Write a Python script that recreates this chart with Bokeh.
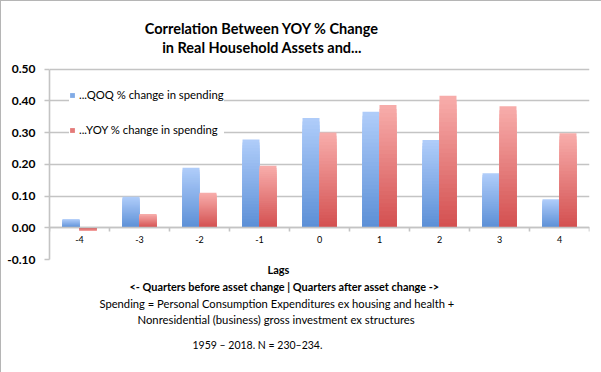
from bokeh.plotting import figure
from bokeh.models import (Range1d, FixedTicker, Legend, LegendItem, ColumnDataSource,
                          Title, Label, CustomJSTickFormatter)
from bokeh.embed import file_html
from bokeh.resources import INLINE

# ---- data ----
lags = [-4, -3, -2, -1, 0, 1, 2, 3, 4]
tick_labels = ["-4", "-3", "-2", "-1", "0", "1", "2", "3", "4"]
qoq = [0.027, 0.098, 0.189, 0.278, 0.346, 0.365, 0.276, 0.172, 0.090]
yoy = [-0.010, 0.043, 0.110, 0.195, 0.300, 0.387, 0.416, 0.383, 0.298]
series_names = ["...QOQ % change in spending", "...YOY % change in spending"]
y_ticks = [-0.1, 0.0, 0.1, 0.2, 0.3, 0.4, 0.5]
title_lines = ["Correlation Between YOY % Change", "in Real Household Assets and..."]
x_title_lines = ["Lags",
                 "<-  Quarters before asset change | Quarters after asset change ->",
                 "Spending = Personal Consumption Expenditures ex housing and health +",
                 "Nonresidential (business) gross investment ex structures",
                 "1959 \u2013 2018. N = 230\u2013234."]

FONT = "Lato"
GRID = "#c4c4c4"

# value axis spans -0.10..0.50; the frame is extended upward to hold the title
y_lo, y_hi = y_ticks[0], y_ticks[-1]
px_per_unit = 317.5
top_room = 68.5 / px_per_unit

p = figure(width=601, height=372, output_backend="svg", toolbar_location=None,
           x_range=Range1d(-4.5, 4.5), y_range=Range1d(y_lo, y_hi + top_room),
           min_border_left=49, min_border_right=12, min_border_top=0, min_border_bottom=113,
           title=None)
p.outline_line_color = None
p.background_fill_color = None
p.border_fill_color = None
p.styles = {"box-shadow": "inset 1px 1px 0 #b5b5b5", "background-color": "white"}

# grid
p.xgrid.grid_line_color = None
p.ygrid.ticker = FixedTicker(ticks=y_ticks)
p.ygrid.grid_line_color = GRID
p.ygrid.grid_line_width = 1.6

# y axis
p.yaxis.ticker = FixedTicker(ticks=y_ticks)
p.yaxis.bounds = (y_lo, y_hi)
p.yaxis.formatter = CustomJSTickFormatter(code="return tick.toFixed(2);")
p.yaxis.axis_line_color = GRID
p.yaxis.axis_line_width = 1.6
p.yaxis.major_tick_line_color = GRID
p.yaxis.major_tick_line_width = 1.6
p.yaxis.major_tick_out = 5
p.yaxis.major_tick_in = 0
p.yaxis.minor_tick_line_color = None
p.yaxis.major_label_standoff = 9
p.yaxis.major_label_text_font = FONT
p.yaxis.major_label_text_font_style = "bold"
p.yaxis.major_label_text_font_size = "12px"
p.yaxis.major_label_text_color = "black"

# x axis at zero
p.xaxis.fixed_location = 0
p.xaxis.ticker = FixedTicker(ticks=lags, minor_ticks=[l - 0.5 for l in lags] + [lags[-1] + 0.5])
p.xaxis.major_label_overrides = {l: t for l, t in zip(lags, tick_labels)}
p.xaxis.axis_line_color = GRID
p.xaxis.axis_line_width = 1.6
p.xaxis.major_tick_line_color = None
p.xaxis.minor_tick_line_color = GRID
p.xaxis.minor_tick_line_width = 1.6
p.xaxis.minor_tick_in = 0
p.xaxis.minor_tick_out = 4
p.xaxis.major_label_standoff = 2
p.xaxis.major_label_text_font = FONT
p.xaxis.major_label_text_font_size = "9px"
p.xaxis.major_label_text_color = "black"


def lerp(c1, c2, t):
    a = [int(c1[i:i + 2], 16) for i in (1, 3, 5)]
    b = [int(c2[i:i + 2], 16) for i in (1, 3, 5)]
    return "#%02x%02x%02x" % tuple(round(a[i] + (b[i] - a[i]) * t) for i in range(3))


N = 30
bar_w = 0.283
series = [(qoq, -bar_w / 2, "#5b8fd6", "#b0cdfa"), (yoy, bar_w / 2, "#d34f4f", "#f8aeac")]
legend_items = []
for (vals, off, c_bot, c_top), name in zip(series, series_names):
    xs, tops, cols = [], [], []
    # overlapping layers from full height (top colour) down to the shortest (bottom colour)
    for k in range(N):
        for lag, v in zip(lags, vals):
            xs.append(lag + off)
            tops.append(v * (N - k) / N)
            cols.append(lerp(c_bot, c_top, (N - k - 0.5) / N))
    src = ColumnDataSource(dict(x=xs, top=tops, color=cols))
    p.vbar(x="x", width=bar_w, bottom=0, top="top", fill_color="color",
           line_color=None, source=src)
    # zero-area proxy used only for the legend swatch
    proxy = p.quad(left=[lags[0]], right=[lags[0]], bottom=[0], top=[0],
                   fill_color=lerp(c_bot, c_top, 0.45), line_color=None)
    legend_items.append(LegendItem(label=name, renderers=[proxy]))

legend = Legend(items=legend_items, location=(20, 123), orientation="vertical",
                label_text_font=FONT, label_text_font_size="11.3px", label_text_color="black",
                label_height=12, glyph_height=6, glyph_width=6, label_standoff=4,
                spacing=22, padding=6, margin=0,
                background_fill_color="white", background_fill_alpha=1.0,
                border_line_color=None)
p.add_layout(legend)

# chart title (two centred lines, placed by baseline)
title_x = -0.958
for text, baseline_px in zip(title_lines, [28.3, 47.3]):
    p.add_layout(Label(x=title_x, y=y_hi + (68.5 - baseline_px) / px_per_unit, text=text,
                       text_align="center", text_baseline="alphabetic",
                       text_font=FONT, text_font_size="14.5px", text_font_style="bold",
                       text_color="black"))


def add_title(text, side, offset, standoff, size, style):
    p.add_layout(Title(text=text, align="left", offset=offset, standoff=standoff,
                       text_font=FONT, text_font_size=size, text_font_style=style,
                       text_color="black"), side)


# texts below (first added is nearest the plot)
add_title(x_title_lines[0], "below", 218, 3, "11px", "bold")
add_title(x_title_lines[1], "below", 80, 1, "10.9px", "bold")
add_title(x_title_lines[2], "below", 50, 2, "11.2px", "normal")
add_title(x_title_lines[3], "below", 88, 1, "11.3px", "normal")
add_title(x_title_lines[4], "below", 143, 20, "10.5px", "normal")

open("out.html", "w").write(file_html(p, INLINE))
